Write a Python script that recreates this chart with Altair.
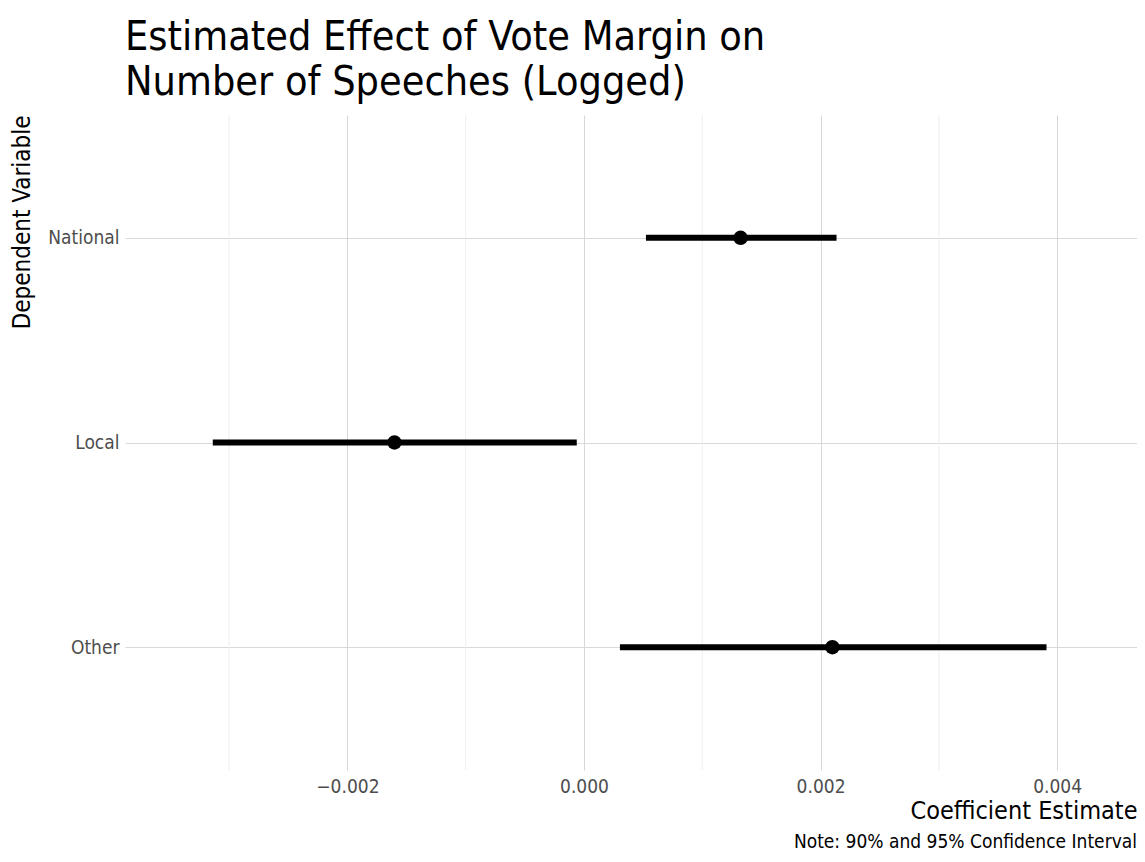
import altair as alt
import pandas as pd

variables = ["National", "Local", "Other"]
estimates = [0.001324, -0.001602, 0.00210]
lower = [0.000524, -0.003138, 0.000304]
upper = [0.002135, -0.000061, 0.00391]
minor_ticks = [-0.003, -0.001, 0.001, 0.003]
major_ticks = [-0.002, 0.0, 0.002, 0.004]

FONT = "DejaVu Sans Condensed, Liberation Sans Narrow, sans-serif"

df = pd.DataFrame({"var": variables, "est": estimates, "lo": lower, "hi": upper})
minor_df = pd.DataFrame({"v": minor_ticks})

xscale = alt.Scale(domain=[-0.00388, 0.004675], nice=False, zero=False)
yscale = alt.Scale(type="point", padding=0.6)

x_axis = alt.Axis(values=major_ticks, format=".3f", title="Coefficient Estimate",
                  titleAnchor="end", titleFontSize=25, titleFontWeight="normal",
                  titleColor="black", titlePadding=2, labelFontSize=19,
                  labelColor="#4d4d4d", labelPadding=7, domain=False, ticks=False,
                  grid=True, gridColor="#d6d6d6", labelFont=FONT, titleFont=FONT)
y_axis = alt.Axis(title="Dependent Variable", titleFontSize=24,
                  titleFontWeight="normal", titleColor="black",
                  titleX=-103, titleY=0, titleAngle=-90, titleAlign="right",
                  titleBaseline="middle",
                  labelFontSize=19, labelColor="#4d4d4d", labelPadding=6,
                  domain=False, ticks=False, grid=True, gridColor="#d9d9d9",
                  labelFont=FONT, titleFont=FONT)

minor = alt.Chart(minor_df).mark_rule(color="#eeeeee", strokeWidth=1).encode(
    x=alt.X("v:Q", scale=xscale, axis=x_axis)
)

base = alt.Chart(df)
rules = base.mark_rule(color="black", strokeWidth=6, strokeCap="butt").encode(
    x=alt.X("lo:Q", scale=xscale, axis=x_axis),
    x2="hi:Q",
    y=alt.Y("var:N", sort=variables, scale=yscale, axis=y_axis),
)
points = base.mark_circle(color="black", size=210, opacity=1).encode(
    x=alt.X("est:Q", scale=xscale, axis=x_axis),
    y=alt.Y("var:N", sort=variables, scale=yscale, axis=y_axis),
)
caption = alt.Chart(pd.DataFrame({"t": ["Note: 90% and 95% Confidence Interval"]})).mark_text(
    align="right", baseline="alphabetic", fontSize=19, font=FONT, color="black"
).encode(text="t:N", x=alt.value(1012), y=alt.value(733))

chart = alt.layer(minor, rules, points, caption).properties(
    width=1012, height=655,
    autosize=alt.AutoSizeParams(type="none"),
    padding={"left": 117, "top": 107, "right": 0, "bottom": 84},
    title=alt.TitleParams(
        text=["Estimated Effect of Vote Margin on", "Number of Speeches (Logged)"],
        anchor="start", frame="group", fontSize=41, fontWeight="normal",
        font=FONT, color="black", lineHeight=45, offset=11,
    ),
).configure_view(stroke=None)

chart.save("out.html", embed_options={"renderer": "svg", "actions": False})
